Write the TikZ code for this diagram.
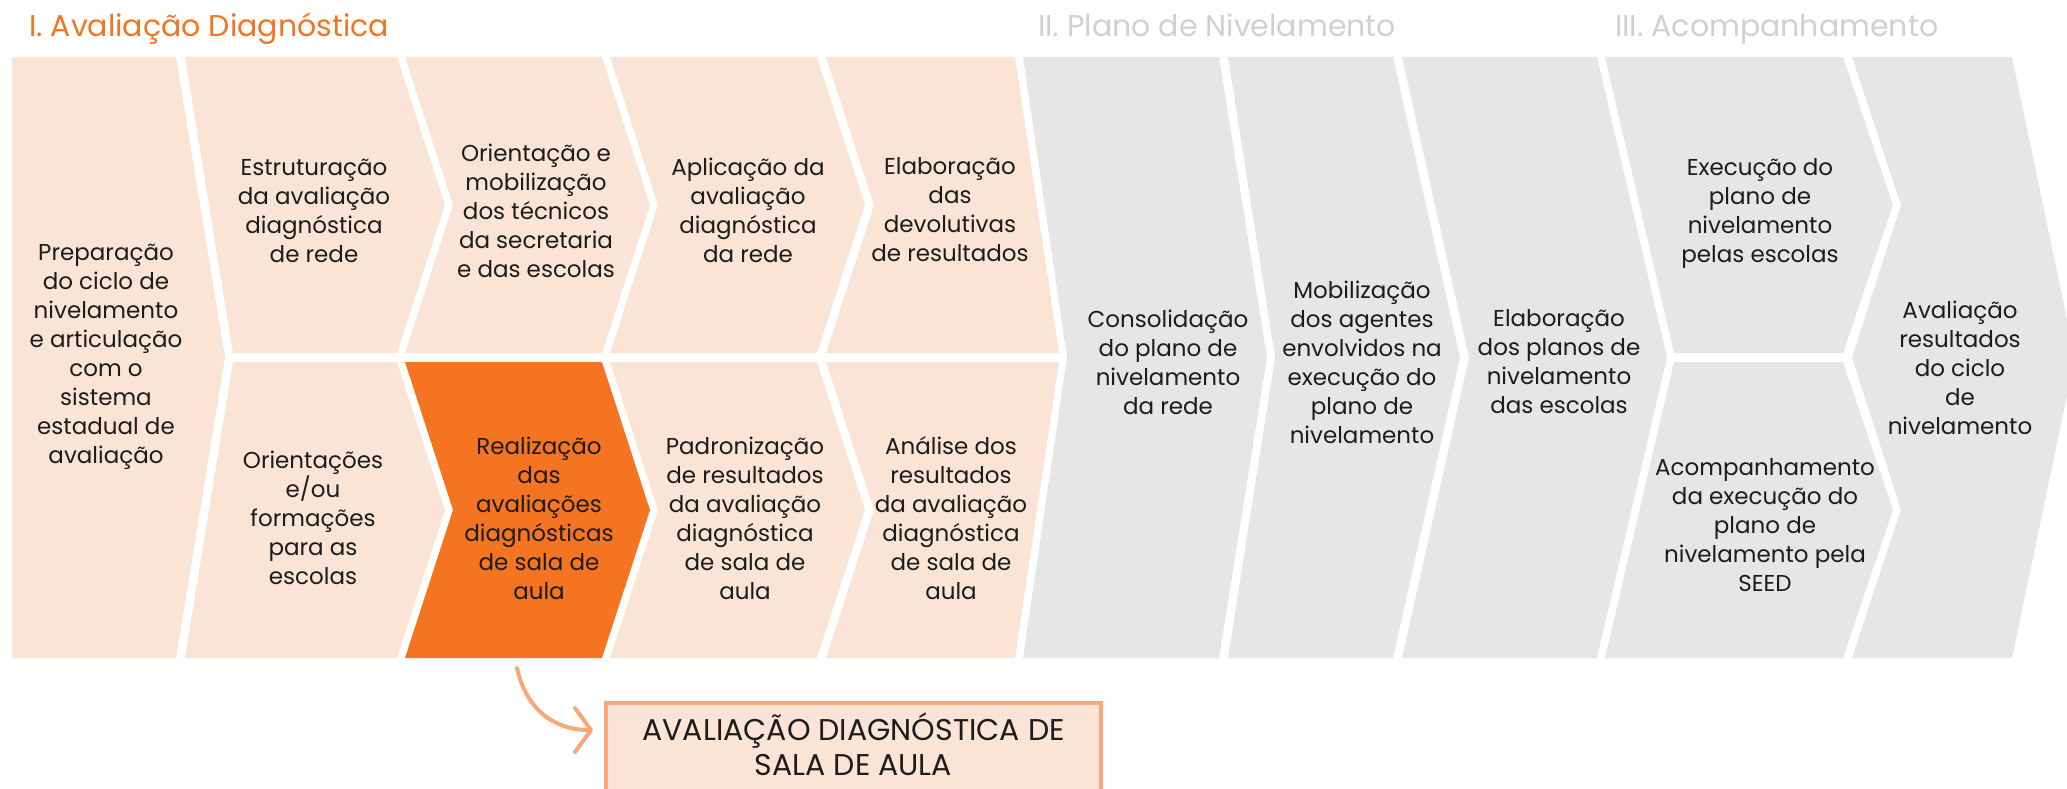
\documentclass[tikz,border=0pt]{standalone}
\usepackage{fontspec}
\setmainfont{Poppins}
\usetikzlibrary{arrows.meta}
\definecolor{peach}{HTML}{FAE4D6}
\definecolor{hot}{HTML}{F47421}
\definecolor{greyfill}{HTML}{E6E6E6}
\definecolor{greytitle}{HTML}{D0D0D0}
\definecolor{soft}{HTML}{F8A878}
\definecolor{ink}{HTML}{1C1C1C}
\begin{document}
\begin{tikzpicture}[x=1pt,y=-1pt,
  lbl/.style={font=\fontsize{23}{29}\selectfont, align=center, text=ink, inner sep=0pt},
  phasetitle/.style={font=\fontsize{30}{36}\selectfont, anchor=base west, inner sep=0pt},
  pfill/.style={fill=peach},
  ofill/.style={fill=hot},
  gfill/.style={fill=greyfill},
  connector/.style={draw=soft, line width=4pt, line cap=round, -{Straight Barb[length=16pt, width=44pt, line cap=round, line join=round]}},
  boxframe/.style={draw=soft, fill=peach, line width=4pt, inner sep=0pt},
  boxtext/.style={font=\fontsize{30}{35}\selectfont, align=center, text=ink, inner sep=0pt}
]
\useasboundingbox (0,0) rectangle (2067,789);
\clip (0,0) rectangle (2067,789);

% titles
\node[phasetitle, text=hot] (t1) at (29,37) {I. Avaliação Diagnóstica};
\node[phasetitle, text=greytitle] (t2) at (1038,37) {II. Plano de Nivelamento};
\node[phasetitle, text=greytitle] (t3) at (1615,37) {III. Acompanhamento};

% phase I shapes
\fill[pfill] (12,57) -- (176,57) -- (225,357.5) -- (176,658) -- (12,658) -- cycle;
\fill[pfill] (185,57) -- (397,57) -- (445,205) -- (397,353) -- (233,353) -- cycle;
\fill[pfill] (233,362) -- (397,362) -- (445,510) -- (397,658) -- (185,658) -- cycle;
\fill[pfill] (405,57) -- (602,57) -- (650,205) -- (602,353) -- (405,353) -- (453,205) -- cycle;
\fill[ofill] (405,362) -- (602,362) -- (650,510) -- (602,658) -- (405,658) -- (453,510) -- cycle;
\fill[pfill] (610,57) -- (817,57) -- (865,205) -- (817,353) -- (610,353) -- (658,205) -- cycle;
\fill[pfill] (610,362) -- (817,362) -- (865,510) -- (817,658) -- (610,658) -- (658,510) -- cycle;
\fill[pfill] (826,57) -- (1015,57) -- (1059,353) -- (826,353) -- (874,205) -- cycle;
\fill[pfill] (826,362) -- (1059,362) -- (1015,658) -- (826,658) -- (874,510) -- cycle;

% phase II / III shapes
\fill[gfill] (1023,57) -- (1219,57) -- (1267,357.5) -- (1219,658) -- (1023,658) -- (1067,357.5) -- cycle;
\fill[gfill] (1228,57) -- (1393,57) -- (1460,357.5) -- (1393,658) -- (1228,658) -- (1275,357.5) -- cycle;
\fill[gfill] (1402,57) -- (1597,57) -- (1667,357.5) -- (1597,658) -- (1402,658) -- (1469,357.5) -- cycle;
\fill[gfill] (1605,57) -- (1843,57) -- (1893,205) -- (1843,353) -- (1674,353) -- cycle;
\fill[gfill] (1674,362) -- (1843,362) -- (1893,510) -- (1843,658) -- (1605,658) -- cycle;
\fill[gfill] (1852,57) -- (2012,57) -- (2075,357.5) -- (2012,658) -- (1852,658) -- (1901,510) -- (1852,357.5) -- (1901,205) -- cycle;

% labels
\node[lbl] (a) at (106,357) {Preparação\\do ciclo de\\nivelamento\\e articulação\\com o\\sistema\\estadual de\\avaliação};
\node[lbl] (b1) at (314,211) {Estruturação\\da avaliação\\diagnóstica\\de rede};
\node[lbl] (b2) at (313,518) {Orientações\\e/ou\\formações\\para as\\escolas};
\node[lbl] (c1) at (536,211) {Orientação e\\mobilização\\dos técnicos\\da secretaria\\e das escolas};
\node[lbl] (c2) at (539,518) {Realização\\das\\avaliações\\diagnósticas\\de sala de\\aula};
\node[lbl] (d1) at (748,210) {Aplicação da\\avaliação\\diagnóstica\\da rede};
\node[lbl] (d2) at (745,518) {Padronização\\de resultados\\da avaliação\\diagnóstica\\de sala de\\aula};
\node[lbl] (e1) at (950,210) {Elaboração\\das\\devolutivas\\de resultados};
\node[lbl] (e2) at (951,518) {Análise dos\\resultados\\da avaliação\\diagnóstica\\de sala de\\aula};
\node[lbl] (g1) at (1168,362) {Consolidação\\do plano de\\nivelamento\\da rede};
\node[lbl] (g2) at (1362,362) {Mobilização\\dos agentes\\envolvidos na\\execução do\\plano de\\nivelamento};
\node[lbl] (g3) at (1559,362) {Elaboração\\dos planos de\\nivelamento\\das escolas};
\node[lbl] (g4) at (1760,213) {Execução do\\plano de\\nivelamento\\pelas escolas};
\node[lbl] (g5) at (1765,525) {Acompanhamento\\da execução do\\plano de\\nivelamento pela\\SEED};
\node[lbl] (g6) at (1960,368) {Avaliação\\resultados\\do ciclo\\de\\nivelamento};

% bottom box
\node[boxframe, minimum width=495pt, minimum height=130pt, anchor=north] (box) at (853.5,701) {};
\node[boxtext] (boxlabel) at (853.5,744) {AVALIAÇÃO DIAGNÓSTICA DE\\SALA DE AULA};

% connector
\coordinate (aS) at (517,668);
\coordinate (aE) at (593,730);
\draw[connector] (aS) .. controls (525,705) and (550,730) .. (aE);
\end{tikzpicture}
\end{document}
